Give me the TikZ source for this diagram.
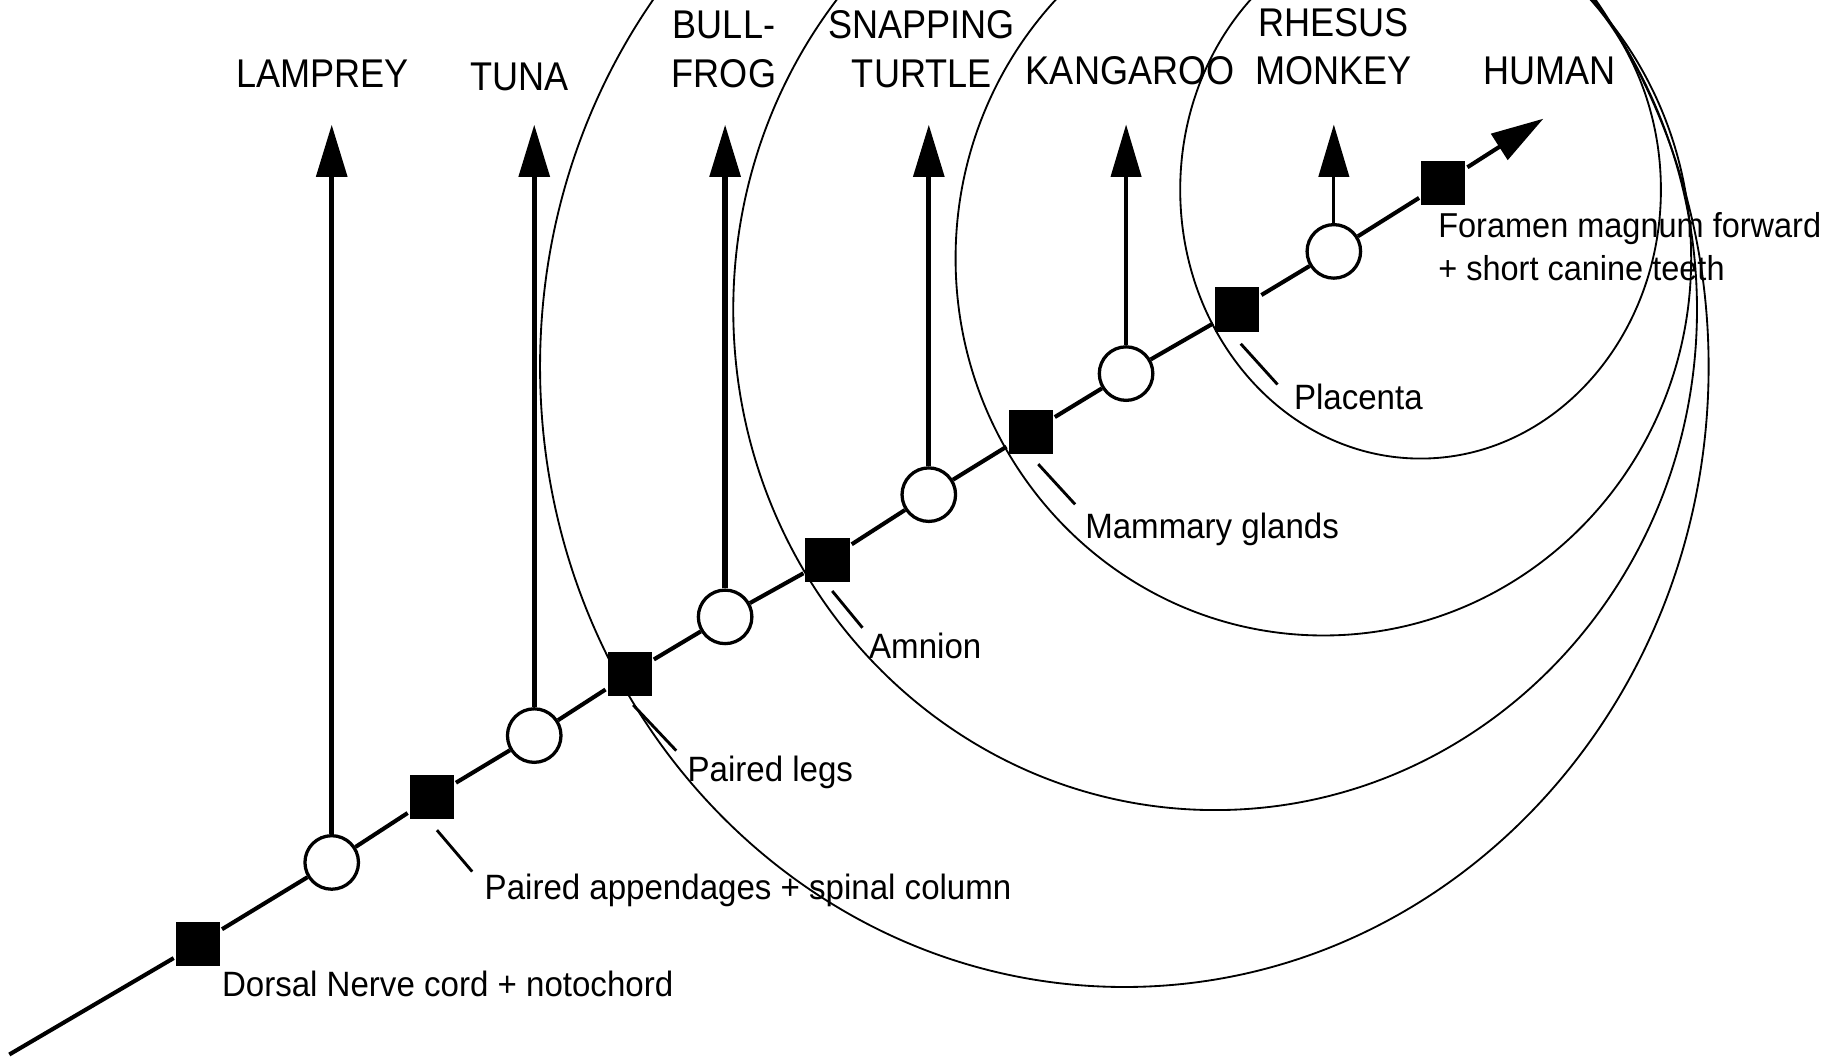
\documentclass[tikz,border=0pt]{standalone}
\usepackage{fontspec}
\setmainfont{Liberation Sans}[FakeStretch=0.9]
\newfontfamily\traitfont{Liberation Sans}[FakeStretch=0.94]
\usetikzlibrary{arrows.meta}
\begin{document}
\begin{tikzpicture}[>={Triangle[length=4.5mm,width=2.6mm]},line width=1pt,
	trait/.style={rectangle,fill=black,inner sep=0pt,minimum size=0.38cm},
	taxon/.style={circle,draw,line width=0.8pt,fill=white,inner sep=0pt,minimum size=0.46cm},
	species/.style={font=\fontsize{9.8}{11.9}\selectfont,align=center,inner sep=0pt,anchor=base},
	remark/.style={font=\traitfont\fontsize{8.6}{10.3}\selectfont,align=left,inner sep=0pt,anchor=base west},
	leader/.style={line width=0.7pt},
	clade/.style={line width=0.45pt}]
\useasboundingbox (0,0) rectangle (15.68,9.12);
\coordinate (start) at (0.08,0.06);
\coordinate (end) at (13.26,8.10);
\coordinate (tips) at (0,8.05);
% nested groups
\begin{scope}
\clip (0,0) rectangle (15.68,9.12);
\draw[clade] (12.205,7.49) ellipse [x radius=2.065, y radius=2.31];
\draw[clade] (11.37,6.90) ellipse [x radius=3.16, y radius=3.24];
\draw[clade] (10.44,6.46) ellipse [x radius=4.14, y radius=4.30];
\draw[clade] (9.66,5.97) ellipse [x radius=5.02, y radius=5.33];
\end{scope}
% characters and taxa
\node[trait] (s1) at (1.70,1.01) {};
\node[taxon] (c1) at (2.85,1.71) {};
\node[trait] (s2) at (3.71,2.27) {};
\node[taxon] (c2) at (4.59,2.80) {};
\node[trait] (s3) at (5.41,3.33) {};
\node[taxon] (c3) at (6.23,3.82) {};
\node[trait] (s4) at (7.11,4.31) {};
\node[taxon] (c4) at (7.98,4.87) {};
\node[trait] (s5) at (8.855,5.41) {};
\node[taxon] (c5) at (9.675,5.91) {};
\node[trait] (s6) at (10.63,6.46) {};
\node[taxon] (c6) at (11.46,6.96) {};
\node[trait] (s7) at (12.40,7.55) {};
\draw (start) -- (s1) -- (c1) -- (s2) -- (c2) -- (s3) -- (c3) -- (s4)
	-- (c4) -- (s5) -- (c5) -- (s6) -- (c6) -- (s7);
\draw[->] (s7) -- (end);
% branches
\draw[->,line width=1.3pt] (c1) -- (c1 |- tips);
\draw[->,line width=1.3pt] (c2) -- (c2 |- tips);
\draw[->,line width=1.3pt] (c3) -- (c3 |- tips);
\draw[->,line width=1.3pt] (c4) -- (c4 |- tips);
\draw[->,line width=0.8pt] (c5) -- (c5 |- tips);
\draw[->,line width=0.8pt] (c6) -- (c6 |- tips);
\node[species] (lamprey) at (2.77,8.37) {LAMPREY};
\node[species] (tuna) at (4.465,8.34) {TUNA};
\node[species] (bullfrog) at (6.22,8.37) {BULL-\\FROG};
\node[species] (turtle) at (7.92,8.37) {SNAPPING\\TURTLE};
\node[species] (kangaroo) at (9.71,8.39) {KANGAROO};
\node[species] (monkey) at (11.46,8.39) {RHESUS\\MONKEY};
\node[species] (human) at (13.31,8.39) {HUMAN};
% character labels
\node[remark] (dorsal) at (1.89,0.562) {Dorsal Nerve cord + notochord};
\node[remark] (append) at (4.147,1.395) {Paired appendages + spinal column};
\node[remark] (legs) at (5.89,2.404) {Paired legs};
\node[remark] (amnion) at (7.45,3.46) {Amnion};
\node[remark] (mammary) at (9.307,4.495) {Mammary glands};
\node[remark] (placenta) at (11.10,5.60) {Placenta};
\node[remark,font=\traitfont\fontsize{8.45}{10.3}\selectfont] (foramen) at (12.34,6.714) {Foramen magnum forward\\+ short canine teeth};
\draw[leader] ([shift={(0.044,-0.075)}]s2.south) -- ([shift={(-0.09,0)}]append.north west);
\draw[leader] ([shift={(0.03,-0.06)}]s3.south) -- ([shift={(-0.08,0.03)}]legs.north west);
\draw[leader] ([shift={(0.04,-0.06)}]s4.south) -- ([shift={(-0.04,0.03)}]amnion.north west);
\draw[leader] ([shift={(0.065,-0.07)}]s5.south) -- ([shift={(-0.07,0.055)}]mammary.north west);
\draw[leader] ([shift={(0.03,-0.086)}]s6.south) -- ([shift={(-0.124,-0.02)}]placenta.north west);
\end{tikzpicture}
\end{document}
